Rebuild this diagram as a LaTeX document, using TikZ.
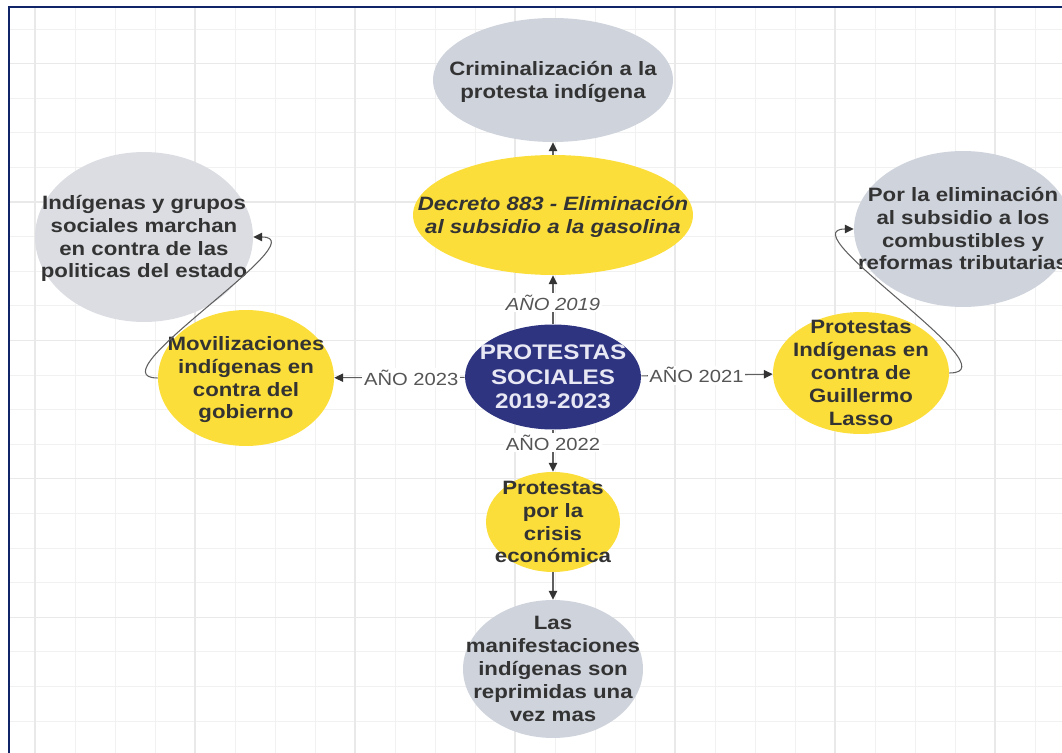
\documentclass[tikz,border=0pt]{standalone}
\usepackage{fontspec}
\setmainfont{Liberation Sans}[FakeStretch=1.15]
\usepackage{tikz}
\usetikzlibrary{shapes.geometric, arrows.meta, positioning}
\definecolor{ideayellow}{RGB}{252,222,58}
\definecolor{ideagray}{RGB}{206,211,220}
\definecolor{ideapale}{RGB}{219,221,226}
\definecolor{ideanavy}{RGB}{46,52,128}
\definecolor{inktext}{RGB}{51,51,51}
\definecolor{linkgray}{RGB}{95,95,95}
\definecolor{yeargray}{RGB}{85,85,85}
\definecolor{gridminor}{RGB}{241,241,241}
\definecolor{gridmajor}{RGB}{233,233,233}
\definecolor{framenavy}{RGB}{16,36,104}

% text set on a zero-size box, so the ellipse keeps its own size
\newcommand{\bubbletext}[1]{\makebox[0pt]{\raisebox{\dimexpr(\depth-\height)/2-1.2pt\relax}[0pt][0pt]{\begin{tabular}[b]{@{}c@{}}#1\end{tabular}}}}

\tikzset{
  bubble/.style={ellipse, inner sep=0pt, text=inktext, font=\bfseries\fontsize{11}{13}\selectfont},
  graybubble/.style={bubble, fill=ideagray},
  yellowbubble/.style={bubble, fill=ideayellow},
  yearlabel/.style={font=\fontsize{10}{12}\selectfont, text=yeargray, fill=white, inner sep=1pt},
  link/.style={draw=linkgray, line width=0.6pt, -{Triangle[length=5pt, width=4.8pt, color=inktext]}}
}

\begin{document}
\begin{tikzpicture}[x=0.02cm, y=-0.02cm]
\useasboundingbox (0,0) rectangle (1062,753);
\clip (0,0) rectangle (1062,753);

% Grid paper
\foreach \gx in {35,75,...,1035} {
    \draw[gridminor, line width=0.5pt] (\gx,7) -- (\gx,753);
}
\foreach \gy in {29,63.6,...,740} {
    \draw[gridminor, line width=0.5pt] (9,\gy) -- (1062,\gy);
}
\foreach \gx in {35,195,...,1035} {
    \draw[gridmajor, line width=0.6pt] (\gx,7) -- (\gx,753);
}
\foreach \gy in {63.6,202,...,740} {
    \draw[gridmajor, line width=0.6pt] (9,\gy) -- (1062,\gy);
}

% Frame
\draw[framenavy, line width=1.4pt] (9,7) rectangle (1075,765);

% Centre
\node[ellipse, inner sep=0pt, fill=ideanavy, text={rgb,255:red,232;green,232;blue,245},
      font=\bfseries\fontsize{12}{14}\selectfont, minimum width=3.52cm, minimum height=2.1cm]
      (core) at (553,377) {\bubbletext{PROTESTAS\\SOCIALES\\2019-2023}};

% Year 2019
\node[yellowbubble, minimum width=5.6cm, minimum height=2.4cm] (decreto) at (553,215)
    {\bubbletext{\itshape Decreto 883 - Eliminación\\\itshape al subsidio a la gasolina}};
\node[graybubble, minimum width=4.8cm, minimum height=2.48cm] (crim) at (553,80)
    {\bubbletext{Criminalización a la\\protesta indígena}};

% Year 2023
\node[yellowbubble, minimum width=3.52cm, minimum height=2.72cm] (moviliza) at (246,378)
    {\bubbletext{Movilizaciones\\indígenas en\\contra del\\gobierno}};
\node[bubble, fill=ideapale, minimum width=4.36cm, minimum height=3.4cm] (marchan) at (144,237)
    {\bubbletext{Indígenas y grupos\\sociales marchan\\en contra de las\\politicas del estado}};

% Year 2021
\node[yellowbubble, minimum width=3.52cm, minimum height=2.44cm] (lasso) at (861,373)
    {\bubbletext{Protestas\\Indígenas en\\contra de\\Guillermo\\Lasso}};
\node[graybubble, minimum width=4.36cm, minimum height=3.12cm] (tributo) at (963,229)
    {\bubbletext{Por la eliminación\\al subsidio a los\\combustibles y\\reformas tributarias}};

% Year 2022
\node[yellowbubble, minimum width=2.68cm, minimum height=2cm] (crisis) at (553,522)
    {\bubbletext{Protestas\\por la\\crisis\\económica}};
\node[graybubble, minimum width=3.6cm, minimum height=2.76cm] (reprime) at (553,669)
    {\bubbletext{Las\\manifestaciones\\indígenas son\\reprimidas una\\vez mas}};

% Links
\draw[link] (core) -- node[yearlabel, pos=0.44, font=\itshape\fontsize{10}{12}\selectfont] {AÑO 2019} (decreto);
\draw[link] (decreto) -- (crim);
\draw[link] (core) -- node[yearlabel, pos=0.41] {AÑO 2023} (moviliza);
\draw[link] (moviliza.west) to[out=180, in=0] (marchan.east);
\draw[link] (core) -- node[yearlabel, pos=0.42] {AÑO 2021} (lasso);
\draw[link] (lasso.east) to[out=0, in=180] (tributo.west);
\draw[link] (core) -- node[yearlabel, pos=0.31] {AÑO 2022} (crisis);
\draw[link] (crisis) -- (reprime);
\end{tikzpicture}
\end{document}
